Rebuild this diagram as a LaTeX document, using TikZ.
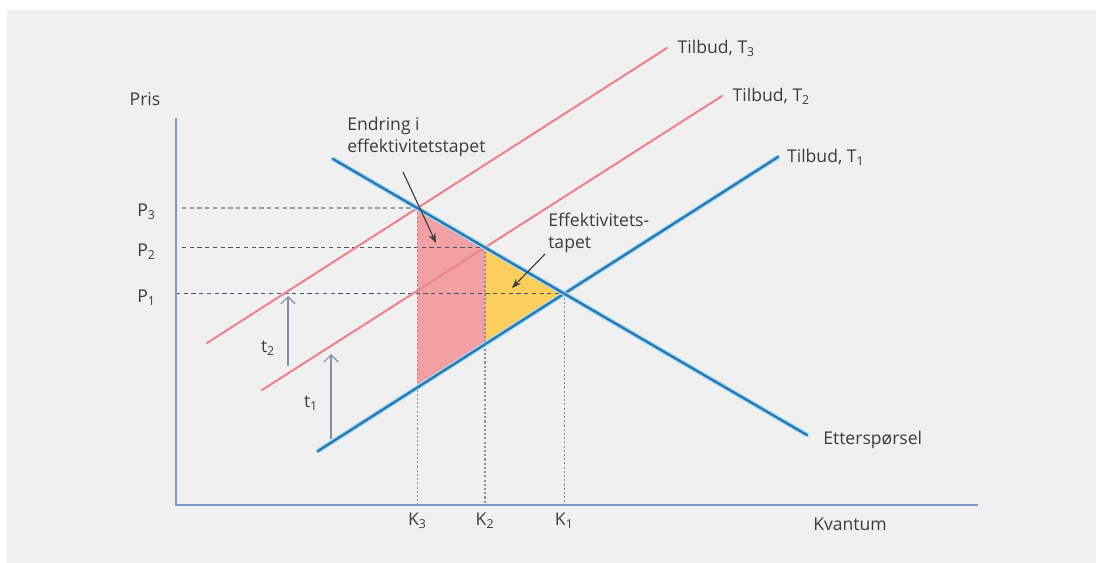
\documentclass[tikz,border=0pt]{standalone}
\usepackage{fontspec}
\setmainfont{Open Sans}
\usetikzlibrary{arrows.meta,positioning}

\definecolor{panelgray}{HTML}{F0F0F0}
\definecolor{txtgray}{HTML}{3C3C3C}
\definecolor{axisblue}{HTML}{8096C4}
\definecolor{curveblue}{HTML}{2A78B4}
\definecolor{glowblue}{HTML}{A8DCF2}
\definecolor{supplyred}{HTML}{EC858C}
\definecolor{lossred}{HTML}{F3A0A5}
\definecolor{lossyellow}{HTML}{FCCF5C}
\definecolor{guidegray}{HTML}{4A5468}

\begin{document}
\begin{tikzpicture}[
    x=0.025cm, y=-0.025cm,
    node distance=2mm,
    lbl/.style={inner sep=0pt, text=txtgray, font=\fontsize{12.5}{15.5}\selectfont},
    note/.style={lbl, align=left},
    axis/.style={draw=axisblue, line width=1.3pt},
    bluecurve/.style={draw=curveblue, line width=1.7pt, line cap=round,
      preaction={draw=glowblue, line width=3.4pt, line cap=round}},
    redcurve/.style={draw=supplyred, line width=1.5pt, line cap=round},
    pguide/.style={draw=guidegray, line width=1pt, dash pattern=on 3pt off 2.5pt},
    kguide/.style={draw=guidegray!65, line width=1pt, dash pattern=on 1.5pt off 1.5pt},
    tarr/.style={draw=axisblue!70!gray, line width=0.8pt, -{Straight Barb[length=1.8mm]}},
    pointer/.style={draw=txtgray, line width=0.8pt, -{Stealth[length=2.4mm]}}
  ]
    % panel
    \useasboundingbox (0,0) rectangle (1096,563);
    \fill[white] (0,0) rectangle (1096,563);
    \fill[panelgray] (7,10) rectangle (1096,563);

    % curves
    \coordinate (o) at (176,505);
    \coordinate (ytop) at (176,118);
    \coordinate (xend) at (978,505);
    \coordinate (d0) at (333,159);
    \coordinate (d1) at (807,435);
    \coordinate (s1a) at (318,451);
    \coordinate (s1b) at (778,157);
    \coordinate (s2a) at (262,390);
    \coordinate (s2b) at (722,96);
    \coordinate (s3a) at (207,343);
    \coordinate (s3b) at (667,48);

    \coordinate (e1) at (intersection of d0--d1 and s1a--s1b);
    \coordinate (e2) at (intersection of d0--d1 and s2a--s2b);
    \coordinate (e3) at (intersection of d0--d1 and s3a--s3b);
    \coordinate (k1) at (e1 |- o);
    \coordinate (k2) at (e2 |- o);
    \coordinate (k3) at (e3 |- o);
    \coordinate (p1) at (o |- e1);
    \coordinate (p2) at (o |- e2);
    \coordinate (p3) at (o |- e3);
    \coordinate (b2) at (intersection of e2--k2 and s1a--s1b);
    \coordinate (b3) at (intersection of e3--k3 and s1a--s1b);

    % losses
    \fill[lossred] (e3) -- (e2) -- (b2) -- (b3) -- cycle;
    \fill[lossyellow] (e2) -- (e1) -- (b2) -- cycle;

    % guides
    \draw[pguide, draw=guidegray!55] ([xshift=1.5mm]p3) -- (e3);
    \draw[pguide] ([xshift=1.5mm]p2) -- (e2);
    \draw[pguide] (p1) -- (e1);
    \draw[kguide] (e3) -- (k3);
    \draw[kguide] (e2) -- (k2);
    \draw[kguide] (e1) -- (k1);

    \draw[redcurve] (s3a) -- (s3b);
    \draw[redcurve] (s2a) -- (s2b);
    \draw[bluecurve] (s1a) -- (s1b);
    \draw[bluecurve] (d0) -- (d1);

    \draw[axis] (ytop) -- (o) -- (xend);

    % tax shifts
    \coordinate (t2from) at (288,366);
    \coordinate (t2to) at (288,296);
    \coordinate (t1from) at (331,439);
    \coordinate (t1to) at (331,354);
    \draw[tarr] (t2from) -- (t2to);
    \draw[tarr] (t1from) -- (t1to);
    \node[lbl] (t2) at (268,348) {t\textsubscript{2}};
    \node[lbl] (t1) at (311,403) {t\textsubscript{1}};

    % labels
    \node[lbl] (pris) at (145,99) {Pris};
    \node[lbl, left=5mm of p3, yshift=-1mm] (lp3) {P\textsubscript{3}};
    \node[lbl, left=5mm of p2, yshift=-1mm] (lp2) {P\textsubscript{2}};
    \node[lbl, left=5mm of p1, yshift=-1mm] (lp1) {P\textsubscript{1}};
    \node[lbl, below=of k3] (lk3) {K\textsubscript{3}};
    \node[lbl, below=of k2] (lk2) {K\textsubscript{2}};
    \node[lbl, below=of k1] (lk1) {K\textsubscript{1}};
    \node[lbl] (kvantum) at (850,524) {Kvantum};
    \node[lbl, anchor=west] (ettersp) at (823,440) {Etterspørsel};
    \node[lbl, right=2.6mm of s3b] (ts3) {Tilbud, T\textsubscript{3}};
    \node[lbl, right=2.6mm of s2b] (ts2) {Tilbud, T\textsubscript{2}};
    \node[lbl, right=2.2mm of s1b] (ts1) {Tilbud, T\textsubscript{1}};

    % notes
    \node[note, anchor=west] (chg) at (347,137) {Endring i\\effektivitetstapet};
    \node[note, anchor=west] (dwl) at (548,233) {Effektivitets-\\tapet};
    \coordinate (chgfrom) at (403,172);
    \coordinate (chgtip) at (436,243);
    \coordinate (dwlfrom) at (545,254);
    \coordinate (dwltip) at (512,288);
    \draw[pointer] (chgfrom) -- (chgtip);
    \draw[pointer] (dwlfrom) -- (dwltip);
\end{tikzpicture}
\end{document}
